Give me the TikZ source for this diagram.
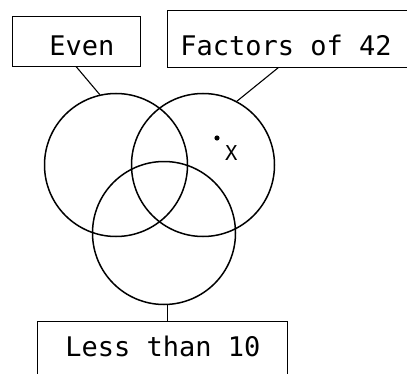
\documentclass[tikz,border=0pt]{standalone}
\usepackage{fontspec}
\newfontfamily\typeface{DejaVu Sans Mono}
\usetikzlibrary{calc}

\begin{document}
\begin{tikzpicture}[x=1pt, y=1pt,
  set/.style={draw, circle, line width=1.5pt, minimum size=143pt, inner sep=0pt},
  tag/.style={draw, line width=0.9pt, inner sep=0pt},
  word/.style={font=\fontsize{27}{30}\typeface, anchor=base west, inner sep=0pt}]
  \useasboundingbox (0,0) rectangle (407,373);
  \clip (0,0) rectangle (407,373);
  % the three sets
  \node[set] (evenset) at (116,208) {};
  \node[set] (factset) at (203,208) {};
  \node[set] (lessset) at (164,140) {};
  % label boxes
  \node[tag, minimum width=128pt, minimum height=50pt] (even) at (76,332) {};
  \node[tag, minimum width=260pt, minimum height=57pt] (fact) at (297,334.5) {};
  \node[tag, minimum width=250pt, minimum height=62pt] (less) at (162,21) {};
  \node[word] (eventext) at ([xshift=37.5pt, yshift=11pt]even.south west) {Even};
  \node[word] (facttext) at ([xshift=13.5pt, yshift=12pt]fact.south west) {Factors of 42};
  \node[word] (lesstext) at ([xshift=28.5pt, yshift=-36pt]less.north west) {Less than 10};
  % connectors
  \draw[line width=1.1pt] (even.south) -- (evenset.103);
  \draw[line width=1.1pt] ([xshift=112pt]fact.south west) -- (factset.62);
  \draw[line width=1.1pt] (lessset.-87) -- (lessset.-87 |- less.north);
  % the element x
  \fill (217,235) circle (2.6pt) coordinate (pt);
  \node[font=\fontsize{20.5}{22}\typeface, anchor=base west, inner sep=0pt] (xname) at ([xshift=8pt, yshift=-22pt]pt) {X};
\end{tikzpicture}
\end{document}
